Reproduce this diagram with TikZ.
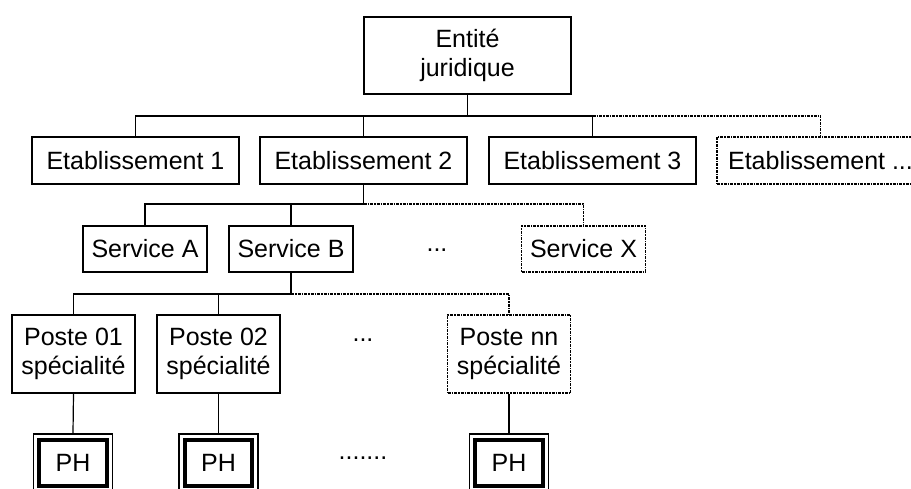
\documentclass[tikz,border=0pt]{standalone}
\usepackage{fontspec}
\setmainfont{Liberation Sans}
\begin{document}
\begin{tikzpicture}[x=1pt,y=-1pt,
  every node/.style={font=\fontsize{25}{29}\selectfont, inner sep=0pt, align=center},
  box/.style={draw, line width=1.2pt, minimum height=47pt},
  etab/.style={box, minimum width=207pt},
  serv/.style={box, minimum width=124pt, minimum height=46pt},
  poste/.style={box, minimum width=123pt, minimum height=78pt},
  phbox/.style={draw, line width=1.2pt, minimum width=79pt, minimum height=58pt},
  link/.style={line width=1.2pt},
  dotline/.style={line width=1.3pt, dash pattern=on 3pt off 1pt on 1.5pt off 1pt},
  inner/.style={line width=4pt}]
\useasboundingbox (0,0) rectangle (911,489);
\clip (0,0) rectangle (911,489);

% top level
\node[box, minimum width=207pt, minimum height=77pt] (ent) at (467.5,55.5) {Entité\\juridique};

% establishments
\node[etab] (e1) at (135.5,160.5) {Etablissement 1};
\node[etab] (e2) at (363.5,160.5) {Etablissement 2};
\node[etab] (e3) at (592.5,160.5) {Etablissement 3};
\node[etab, dotline] (e4) at (820.5,160.5) {Etablissement ...};
\coordinate (bus1) at (0,116);

% services
\node[serv] (sa) at (145,249) {Service A};
\node[serv] (sb) at (291,249) {Service B};
\node (sdots) at (437,250) {...};
\node[serv, dotline] (sx) at (583.5,249) {Service X};
\coordinate (bus2) at (0,204);

% posts
\node[poste] (p1) at (73.5,354) {Poste 01\\spécialité};
\node[poste] (p2) at (218.5,354) {Poste 02\\spécialité};
\node (pdots) at (363,340) {...};
\node[poste, dotline] (pn) at (509,354) {Poste nn\\spécialité};
\coordinate (bus3) at (0,294);

% PH boxes (thin outer frame, thick inner frame)
\node[phbox] (h1) at (73,463) {PH};
\node[phbox] (h2) at (218.5,463) {PH};
\node (hdots) at (363,458) {.......};
\node[phbox] (hn) at (509,463) {PH};
\foreach \h in {h1,h2,hn}
  \draw[inner] ([shift={(6.5pt,-6.5pt)}]\h.north west) rectangle ([shift={(-6.5pt,6.5pt)}]\h.south east);

% level 1 connectors
\draw[link] (ent.south) -- (ent.south |- bus1);
\draw[link] (e1.north) -- (e1.north |- bus1) -- (e3.north |- bus1) -- (e3.north);
\draw[link] (e2.north) -- (e2.north |- bus1);
\draw[dotline] (e3.north |- bus1) -| (e4.north);

% level 2 connectors
\draw[link] (e2.south) -- (e2.south |- bus2);
\draw[link] (sa.north) -- (sa.north |- bus2) -- (e2.south |- bus2);
\draw[link] (sb.north) -- (sb.north |- bus2);
\draw[dotline] (e2.south |- bus2) -| (sx.north);

% level 3 connectors
\draw[link] (sb.south) -- (sb.south |- bus3);
\draw[link] (p1.north) -- (p1.north |- bus3) -- (sb.south |- bus3);
\draw[link] (p2.north) -- (p2.north |- bus3);
\draw[dotline] (sb.south |- bus3) -| (pn.north);

% posts to PH
\draw[link] (p1.south) -- (h1.north);
\draw[link] (p2.south) -- (h2.north);
\draw[link] (pn.south) -- (hn.north);
\end{tikzpicture}
\end{document}
